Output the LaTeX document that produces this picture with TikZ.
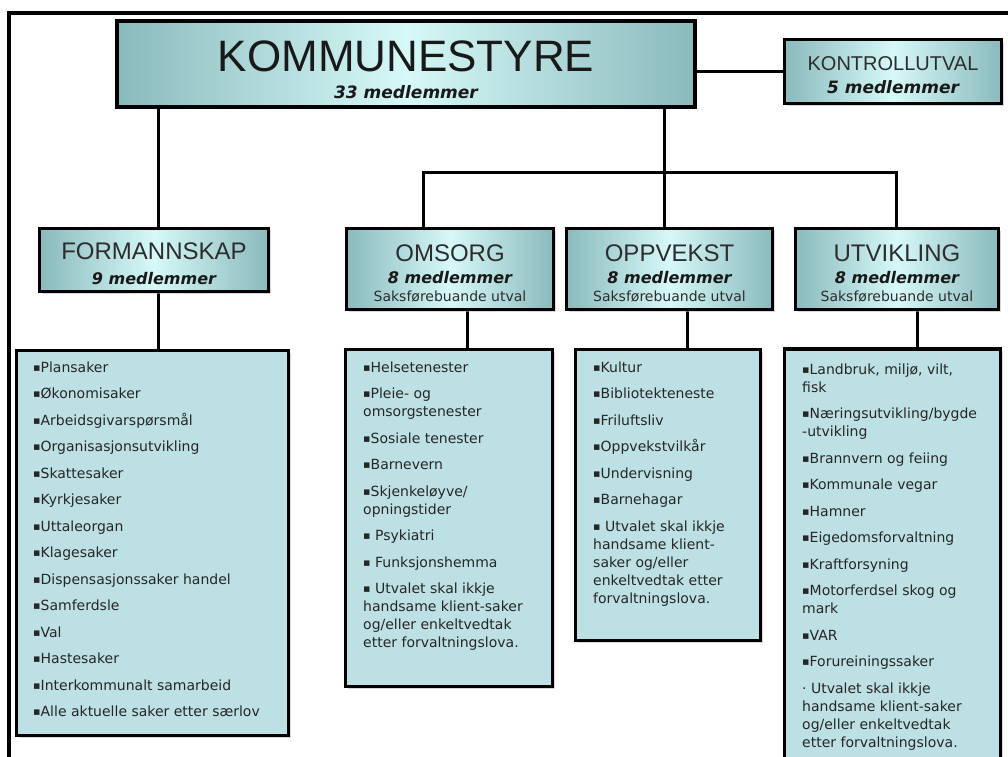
\documentclass[tikz,border=0pt]{standalone}
\usepackage{fontspec}
\setmainfont{DejaVu Sans}
\newfontfamily\ttlfont{Liberation Sans}
\newfontfamily\lstfont{DejaVu Sans}
\usetikzlibrary{shadows,backgrounds}
\definecolor{tdark}{RGB}{138,186,188}
\definecolor{tlight}{RGB}{214,248,248}
\definecolor{lfill}{RGB}{189,224,228}
\definecolor{ink}{RGB}{45,45,45}
\newcommand\lline[1]{\hbox{#1}}
\newcommand\itmgap{\vskip 8.5pt}
\newcommand\sqb{\raisebox{0.8pt}{\fontsize{11}{11}\selectfont ▪}}
\begin{document}
\begin{tikzpicture}[x=1pt,y=-1pt,
  hdr/.style={rectangle, draw=black, line width=3.5pt, left color=tdark, right color=tdark, middle color=tlight, inner sep=0pt,
    drop shadow={shadow xshift=2pt, shadow yshift=-2pt, fill=black!30}},
  lbox/.style={rectangle, draw=black, line width=3.5pt, fill=lfill, inner sep=0pt,
    drop shadow={shadow xshift=2pt, shadow yshift=-2pt, fill=black!30}},
  conn/.style={line width=3pt},
  ttl/.style={font=\ttlfont\fontsize{24}{24}\selectfont, text=ink, inner sep=0pt, anchor=base},
  mdl/.style={font=\fontsize{16}{16}\selectfont\bfseries\itshape, text=black!90, inner sep=0pt, anchor=base},
  sks/.style={font=\lstfont\fontsize{14}{14}\selectfont, text=ink, inner sep=0pt, anchor=base},
  ltx/.style={font=\lstfont\fontsize{14}{18}\selectfont, text=black!85, inner sep=0pt, anchor=base west},
]
\useasboundingbox (0,0) rectangle (1008,756);

% frame
\draw[line width=3.5pt] (9,800) -- (9,13) -- (1050,13);

% header boxes
\node[hdr, minimum width=578pt, minimum height=86pt] (kst) at (406,64) {};
\node[hdr, minimum width=217pt, minimum height=64pt] (kon) at (893,71.5) {};
\node[hdr, minimum width=229pt, minimum height=63pt] (frm) at (154,260) {};
\node[hdr, minimum width=207pt, minimum height=81pt] (oms) at (450,269) {};
\node[hdr, minimum width=206pt, minimum height=81pt] (opp) at (669.5,269) {};
\node[hdr, minimum width=203pt, minimum height=81pt] (utv) at (897,269) {};

% header texts
\node[ttl, font=\ttlfont\fontsize{44}{44}\selectfont, text=black!90] (kstT) at (406,71) {KOMMUNESTYRE};
\node[mdl, font=\fontsize{17}{17}\selectfont\bfseries\itshape] (kstM) at (406,98) {33 medlemmer};
\node[ttl, font=\ttlfont\fontsize{20}{20}\selectfont] (konT) at (893,70) {KONTROLLUTVAL};
\node[mdl, font=\fontsize{17}{17}\selectfont\bfseries\itshape] (konM) at (893,93) {5 medlemmer};
\node[ttl] (frmT) at (154,259) {FORMANNSKAP};
\node[mdl] (frmM) at (154,284) {9 medlemmer};
\node[ttl] (omsT) at (450,261) {OMSORG};
\node[mdl] (omsM) at (450,283) {8 medlemmer};
\node[sks] (omsS) at (450,301) {Saksførebuande utval};
\node[ttl] (oppT) at (669.5,261) {OPPVEKST};
\node[mdl] (oppM) at (669.5,283) {8 medlemmer};
\node[sks] (oppS) at (669.5,301) {Saksførebuande utval};
\node[ttl] (utvT) at (897,261) {UTVIKLING};
\node[mdl] (utvM) at (897,283) {8 medlemmer};
\node[sks] (utvS) at (897,301) {Saksførebuande utval};

% list boxes
\node[lbox, minimum width=272pt, minimum height=385pt] (frmL) at (152.5,543) {};
\node[lbox, minimum width=207pt, minimum height=337pt] (omsL) at (449,518) {};
\node[lbox, minimum width=185pt, minimum height=291pt] (oppL) at (668,495) {};
\node[lbox, minimum width=216pt, minimum height=412pt] (utvL) at (892.5,555) {};

% list texts
\node[ltx] (frmX) at (33,372) {\vtop{%
\lline{\sqb Plansaker}\itmgap
\lline{\sqb Økonomisaker}\itmgap
\lline{\sqb Arbeidsgivarspørsmål}\itmgap
\lline{\sqb Organisasjonsutvikling}\itmgap
\lline{\sqb Skattesaker}\itmgap
\lline{\sqb Kyrkjesaker}\itmgap
\lline{\sqb Uttaleorgan}\itmgap
\lline{\sqb Klagesaker}\itmgap
\lline{\sqb Dispensasjonssaker handel}\itmgap
\lline{\sqb Samferdsle}\itmgap
\lline{\sqb Val}\itmgap
\lline{\sqb Hastesaker}\itmgap
\lline{\sqb Interkommunalt samarbeid}\itmgap
\lline{\sqb Alle aktuelle saker etter særlov}}};

\node[ltx] (omsX) at (363,372) {\vtop{%
\lline{\sqb Helsetenester}\itmgap
\lline{\sqb Pleie- og}
\lline{omsorgstenester}\itmgap
\lline{\sqb Sosiale tenester}\itmgap
\lline{\sqb Barnevern}\itmgap
\lline{\sqb Skjenkeløyve/}
\lline{opningstider}\itmgap
\lline{\sqb{} Psykiatri}\itmgap
\lline{\sqb{} Funksjonshemma}\itmgap
\lline{\sqb{} Utvalet skal ikkje}
\lline{handsame klient-saker}
\lline{og/eller enkeltvedtak}
\lline{etter forvaltningslova.}}};

\node[ltx] (oppX) at (593,372) {\vtop{%
\lline{\sqb Kultur}\itmgap
\lline{\sqb Bibliotekteneste}\itmgap
\lline{\sqb Friluftsliv}\itmgap
\lline{\sqb Oppvekstvilkår}\itmgap
\lline{\sqb Undervisning}\itmgap
\lline{\sqb Barnehagar}\itmgap
\lline{\sqb{} Utvalet skal ikkje}
\lline{handsame klient-}
\lline{saker og/eller}
\lline{enkeltvedtak etter}
\lline{forvaltningslova.}}};

\node[ltx] (utvX) at (802,374) {\vtop{%
\lline{\sqb Landbruk, miljø, vilt,}
\lline{fisk}\itmgap
\lline{\sqb Næringsutvikling/bygde}
\lline{-utvikling}\itmgap
\lline{\sqb Brannvern og feiing}\itmgap
\lline{\sqb Kommunale vegar}\itmgap
\lline{\sqb Hamner}\itmgap
\lline{\sqb Eigedomsforvaltning}\itmgap
\lline{\sqb Kraftforsyning}\itmgap
\lline{\sqb Motorferdsel skog og}
\lline{mark}\itmgap
\lline{\sqb VAR}\itmgap
\lline{\sqb Forureiningssaker}\itmgap
\lline{· Utvalet skal ikkje}
\lline{handsame klient-saker}
\lline{og/eller enkeltvedtak}
\lline{etter forvaltningslova.}}};

% connectors
\coordinate (mx) at (664,172);
\coordinate (bl) at (423,172);
\coordinate (br) at (896,172);
\begin{pgfonlayer}{background}
\draw[conn] (kon.west) -- (kon.west -| kst.east);
\draw[conn] ([xshift=4pt]frm.north) -- ([xshift=4pt]frm.north |- kst.south);
\draw[conn] (kst.south -| mx) -- (opp.north -| mx);
\draw[conn] (oms.north -| bl) -- (bl) -- (br) -- (utv.north -| br);
\draw[conn] ([xshift=4pt]frm.south) -- ([xshift=4pt]frm.south |- frmL.north);
\draw[conn] ([xshift=17pt,yshift=5pt]oms.south) -- ([xshift=17pt]oms.south |- omsL.north);
\draw[conn] ([xshift=17.5pt,yshift=5pt]opp.south) -- ([xshift=17.5pt]opp.south |- oppL.north);
\draw[conn] ([xshift=20pt,yshift=5pt]utv.south) -- ([xshift=20pt]utv.south |- utvL.north);
\end{pgfonlayer}
\end{tikzpicture}
\end{document}
